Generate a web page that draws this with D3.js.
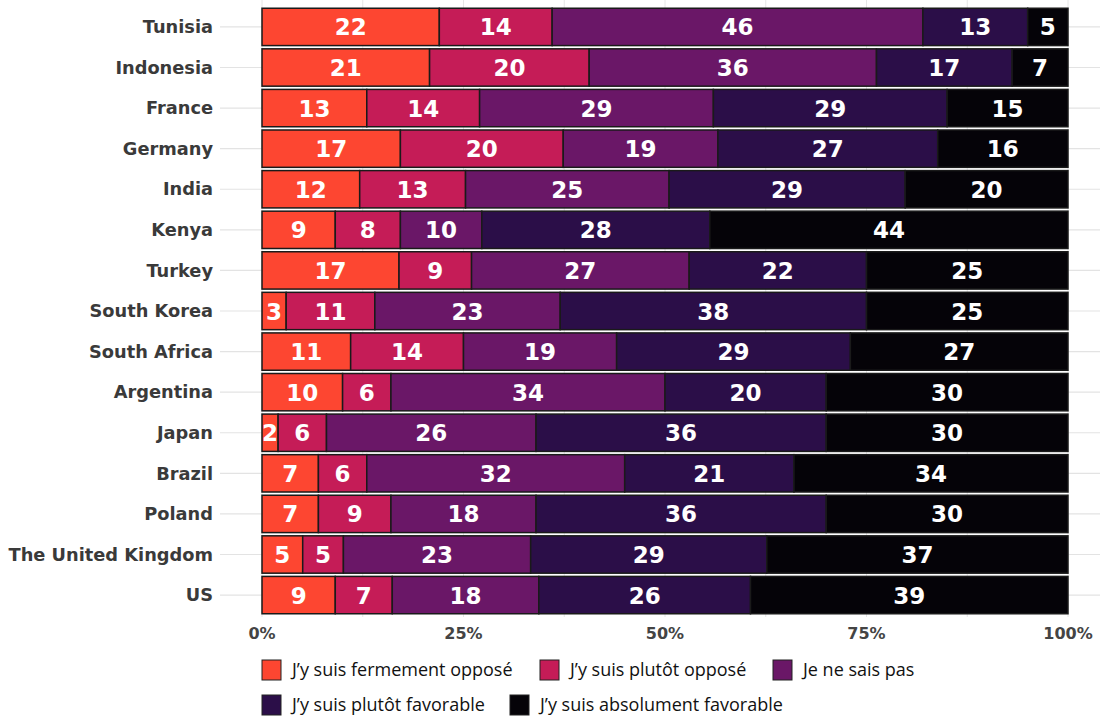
<!DOCTYPE html>
<html>
<head>
<meta charset="utf-8">
<script src="https://cdn.jsdelivr.net/npm/d3@7"></script>
<style>
  body { margin: 0; background: #fff; }
  svg { display: block; }
</style>
</head>
<body>
<svg id="chart" width="1100" height="720"></svg>
<script>
const countries = ["Tunisia", "Indonesia", "France", "Germany", "India", "Kenya", "Turkey",
  "South Korea", "South Africa", "Argentina", "Japan", "Brazil", "Poland", "The United Kingdom", "US"];
const categories = ["J\u2019y suis fermement oppos\u00e9", "J\u2019y suis plut\u00f4t oppos\u00e9",
  "Je ne sais pas", "J\u2019y suis plut\u00f4t favorable", "J\u2019y suis absolument favorable"];
const colors = ["#fd4631", "#c51c57", "#6a1767", "#2b0e48", "#050308"];

// one array per answer, in country order
const fermementOppose = [22, 21, 13, 17, 12, 9, 17, 3, 11, 10, 2, 7, 7, 5, 9];
const plutotOppose    = [14, 20, 14, 20, 13, 8, 9, 11, 14, 6, 6, 6, 9, 5, 7];
const neSaisPas       = [46, 36, 29, 19, 25, 10, 27, 23, 19, 34, 26, 32, 18, 23, 18];
const plutotFavorable = [13, 17, 29, 27, 29, 28, 22, 38, 29, 20, 36, 21, 36, 29, 26];
const absolument      = [5, 7, 15, 16, 20, 44, 25, 25, 27, 30, 30, 34, 30, 37, 39];
const tickValues = [0, 0.25, 0.5, 0.75, 1];

const series = [fermementOppose, plutotOppose, neSaisPas, plutotFavorable, absolument];

const svg = d3.select("#chart");
const x = d3.scaleLinear().domain([0, 1]).range([262, 1068]);
const y = d3.scaleBand().domain(countries).range([5, 617]).padding(0.08);

// grid
const grid = svg.append("g");
d3.range(0, 1.001, 0.125).forEach(v => {
  grid.append("line")
    .attr("x1", x(v)).attr("x2", x(v))
    .attr("y1", 0).attr("y2", 617)
    .attr("stroke", "#e6e6e6").attr("stroke-width", 1);
});
countries.forEach(c => {
  grid.append("line")
    .attr("x1", 220).attr("x2", 1100)
    .attr("y1", y(c) + y.bandwidth() / 2).attr("y2", y(c) + y.bandwidth() / 2)
    .attr("stroke", "#e3e3e3").attr("stroke-width", 1.2);
});

// country labels
svg.append("g").selectAll("text")
  .data(countries)
  .enter().append("text")
  .attr("x", 213)
  .attr("y", d => y(d) + y.bandwidth() / 2)
  .attr("dy", "0.35em")
  .attr("text-anchor", "end")
  .attr("font-family", "'DejaVu Sans', sans-serif")
  .attr("font-weight", "bold")
  .attr("font-size", 17.8)
  .attr("fill", "#3a3a3a")
  .text(d => d);

// stacked segments (normalised per country)
const rows = countries.map((c, i) => {
  const vals = series.map(s => s[i]);
  const total = d3.sum(vals);
  let acc = 0;
  return vals.map((v, k) => {
    const seg = { country: c, k: k, value: v, x0: acc / total, x1: (acc + v) / total };
    acc += v;
    return seg;
  });
});
const segs = rows.flat();

const bars = svg.append("g");
bars.selectAll("rect")
  .data(segs)
  .enter().append("rect")
  .attr("x", d => x(d.x0))
  .attr("y", d => y(d.country))
  .attr("width", d => x(d.x1) - x(d.x0))
  .attr("height", y.bandwidth())
  .attr("fill", d => colors[d.k])
  .attr("stroke", "#1a1a1a")
  .attr("stroke-width", 1.5);

bars.selectAll("text")
  .data(segs)
  .enter().append("text")
  .attr("x", d => (x(d.x0) + x(d.x1)) / 2)
  .attr("y", d => y(d.country) + y.bandwidth() / 2)
  .attr("dy", "0.37em")
  .attr("text-anchor", "middle")
  .attr("font-family", "'DejaVu Sans', sans-serif")
  .attr("font-weight", "bold")
  .attr("font-size", 23)
  .attr("fill", "#ffffff")
  .text(d => d.value);

// x axis tick labels
svg.append("g").selectAll("text")
  .data(tickValues)
  .enter().append("text")
  .attr("x", d => x(d))
  .attr("y", 633)
  .attr("dy", "0.35em")
  .attr("text-anchor", "middle")
  .attr("font-family", "'DejaVu Sans', sans-serif")
  .attr("font-weight", "bold")
  .attr("font-size", 16)
  .attr("fill", "#444")
  .text(d => d3.format(".0%")(d));

// legend
const legendPos = [
  { x: 262, y: 660 }, { x: 540, y: 660 }, { x: 773, y: 660 },
  { x: 262, y: 695 }, { x: 510, y: 695 }
];
const legend = svg.append("g").selectAll("g")
  .data(categories)
  .enter().append("g")
  .attr("transform", (d, i) => `translate(${legendPos[i].x},${legendPos[i].y})`);
legend.append("rect")
  .attr("width", 19).attr("height", 20)
  .attr("fill", (d, i) => colors[i])
  .attr("stroke", "#222").attr("stroke-width", 1);
legend.append("text")
  .attr("x", 30).attr("y", 10).attr("dy", "0.35em")
  .attr("font-family", "'Open Sans', sans-serif")
  .attr("font-size", 18)
  .attr("fill", "#111")
  .text(d => d);
</script>
</body>
</html>
